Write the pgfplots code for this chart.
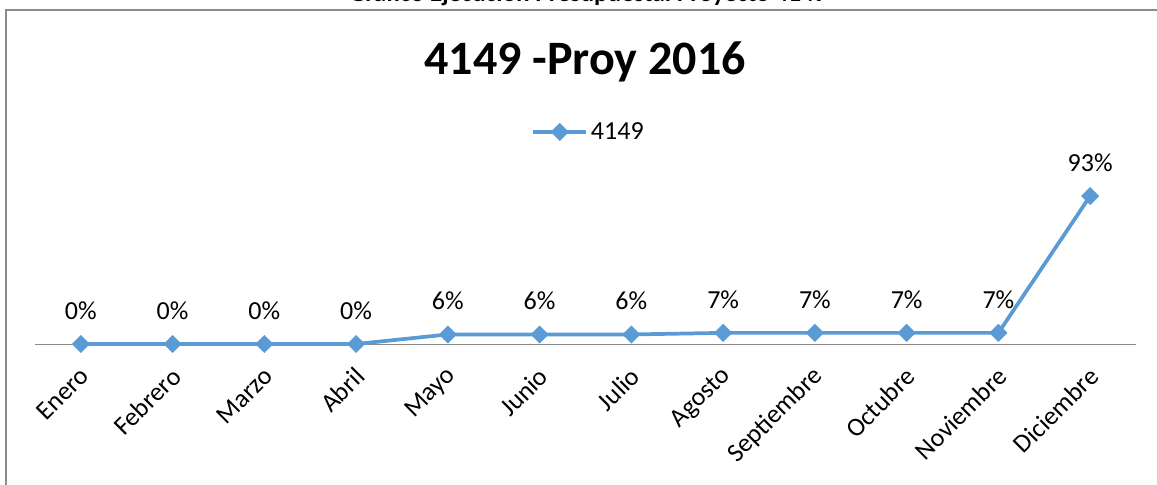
\documentclass[border=0pt]{standalone}
\usepackage{pgfplots}
\pgfplotsset{compat=1.18}
\usepackage{fontspec}
\setmainfont{Carlito}
\definecolor{serie}{HTML}{5B9BD5}
\definecolor{frame}{HTML}{8C8C8C}
\begin{document}
\begin{tikzpicture}[x=0.75pt,y=-0.75pt]
\useasboundingbox (0,0) rectangle (1157,485);
\clip (0,0) rectangle (1157,485);
\draw[frame, line width=1pt] (6,520) -- (6,10) -- (1170,10);
\node[anchor=base, font=\bfseries\fontsize{19}{22}\selectfont, inner sep=0] at (588,2) {Gráfico Ejecución Presupuestal Proyecto 4149};
\node[font=\bfseries\fontsize{36}{40}\selectfont, inner sep=0] at (585,62) {4149 -Proy 2016};
\begin{axis}[
  at={(26.25pt,-258pt)}, anchor=south west,
  scale only axis,
  width=825.75pt, height=119.3pt,
  xmin=-0.5, xmax=11.5, ymin=0, ymax=1,
  axis x line*=bottom,
  axis y line=none,
  x axis line style={frame, line width=0.75pt, -},
  xtick={0,...,11},
  xticklabels={Enero,Febrero,Marzo,Abril,Mayo,Junio,Julio,Agosto,Septiembre,Octubre,Noviembre,Diciembre},
  major tick length=0pt,
  xticklabel style={font=\fontsize{19.5}{22}\selectfont, inner sep=0pt, yshift=-21pt, xshift=3pt, rotate=45, anchor=east},
  clip=false,
  point meta=explicit symbolic,
  nodes near coords,
  every node near coord/.append style={font=\fontsize{19.5}{22}\selectfont, text=black, anchor=center, yshift=25pt},
  legend style={at={(0.503,1.333)}, anchor=center, draw=none, fill=none, font=\fontsize{19.5}{22}\selectfont, inner sep=0pt},
  legend image code/.code={\draw[#1, mark=none] (0pt,0pt) -- (40pt,0pt);
     \draw[#1] plot[mark=square*, mark options={rotate=45}] coordinates {(20pt,0pt)};},
]
\addplot[serie, line width=2.8pt, mark=square*, mark size=3.4pt, mark options={rotate=45, solid}] coordinates {
(0,0) [0\%]
(1,0) [0\%]
(2,0) [0\%]
(3,0) [0\%]
(4,0.06) [6\%]
(5,0.06) [6\%]
(6,0.06) [6\%]
(7,0.07) [7\%]
(8,0.07) [7\%]
(9,0.07) [7\%]
(10,0.07) [7\%]
(11,0.93) [93\%]
};
\addlegendentry{4149}
\end{axis}
\end{tikzpicture}
\end{document}
